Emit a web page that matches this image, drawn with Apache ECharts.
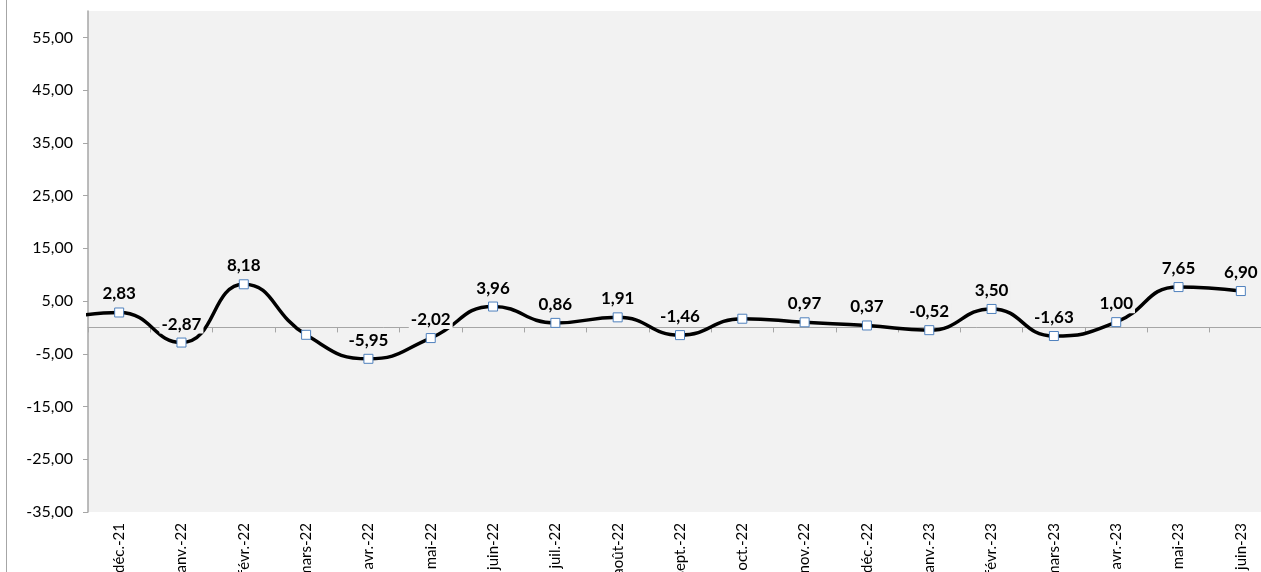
<!DOCTYPE html>
<html>
<head>
<meta charset="utf-8">
<script src="https://cdn.jsdelivr.net/npm/echarts@6/dist/echarts.min.js"></script>
<style>
  html, body { margin: 0; padding: 0; background: #fff; overflow: hidden; }
  #wrap { position: relative; width: 1261px; height: 572px; overflow: hidden; }
  #frame { position: absolute; left: 6px; top: 0; width: 1px; height: 572px; background: #a6a6a6; }
  /* plot runs past the right edge of the window, as in the cropped original */
  #chart { position: absolute; left: 0; top: 0; width: 1272px; height: 572px; }
</style>
</head>
<body>
<div id="wrap">
  <div id="chart"></div>
  <div id="frame"></div>
</div>
<script>
// months shown on the axis (déc.-21 is index 0)
var months = ['déc.-21', 'janv.-22', 'févr.-22', 'mars-22', 'avr.-22', 'mai-22', 'juin-22', 'juil.-22',
  'août-22', 'sept.-22', 'oct.-22', 'nov.-22', 'déc.-22', 'janv.-23', 'févr.-23', 'mars-23',
  'avr.-23', 'mai-23', 'juin-23'];
var values = [2.83, -2.87, 8.18, -1.40, -5.95, -2.02, 3.96, 0.86, 1.91, -1.46, 1.65, 0.97, 0.37,
  -0.52, 3.50, -1.63, 1.00, 7.65, 6.90];
// the curve enters from a month left of the visible axis (estimated)
var previousValue = 1.5;
// months whose value has no label in the picture
var unlabelled = ['mars-22', 'oct.-22'];

var yTicks = { min: -35, max: 60, step: 10 };

var fmt = function (v) { return v.toFixed(2).replace('.', ','); };

var points = [{ value: [-1, previousValue], label: { show: false } }];
months.forEach(function (m, i) {
  points.push({ value: [i, values[i]], label: { show: unlabelled.indexOf(m) < 0 } });
});

var chart = echarts.init(document.getElementById('chart'));
chart.setOption({
  animation: false,
  textStyle: { fontFamily: 'Lato' },
  grid: {
    left: 88, right: 0, top: 11, bottom: 60,
    containLabel: false,
    outerBoundsMode: 'none',
    show: true, backgroundColor: '#f2f2f2', borderWidth: 0
  },
  xAxis: [
    {
      type: 'category',
      data: months,
      boundaryGap: true,
      position: 'bottom',
      axisLine: { show: false, onZero: false },
      axisTick: { show: false },
      axisLabel: { rotate: 90, margin: 11, fontSize: 15, color: '#000', fontFamily: 'Lato' }
    },
    {
      type: 'value',
      min: -0.5,
      max: 18.5,
      interval: 1,
      position: 'bottom',
      axisLine: { show: true, onZero: true, onZeroAxisIndex: 0, lineStyle: { color: '#a6a6a6', width: 1 } },
      axisTick: { show: true, length: 5, lineStyle: { color: '#a6a6a6' } },
      axisLabel: { show: false },
      splitLine: { show: false }
    }
  ],
  yAxis: {
    type: 'value',
    min: yTicks.min,
    max: yTicks.max,
    interval: yTicks.step,
    axisLine: { show: true, onZero: false, lineStyle: { color: '#a6a6a6', width: 1.5 } },
    axisTick: { show: true, length: 5, lineStyle: { color: '#a6a6a6' } },
    splitLine: { show: false },
    axisLabel: {
      margin: 15, fontSize: 16, color: '#000', fontFamily: 'Lato',
      showMaxLabel: false,
      formatter: fmt
    }
  },
  series: [{
    type: 'line',
    xAxisIndex: 1,
    data: points,
    smooth: 0.5,
    clip: true,
    lineStyle: { color: '#000', width: 3.5 },
    symbol: 'rect',
    symbolSize: 9,
    itemStyle: { color: '#fff', borderColor: '#4f81bd', borderWidth: 1 },
    label: {
      show: true,
      position: 'top',
      distance: 4,
      fontSize: 17,
      fontWeight: 'bold',
      color: '#000',
      fontFamily: 'Lato',
      backgroundColor: '#f2f2f2',
      padding: [1, 2],
      formatter: function (p) { return fmt(p.value[1]); }
    },
    z: 3
  }]
});
</script>
</body>
</html>
